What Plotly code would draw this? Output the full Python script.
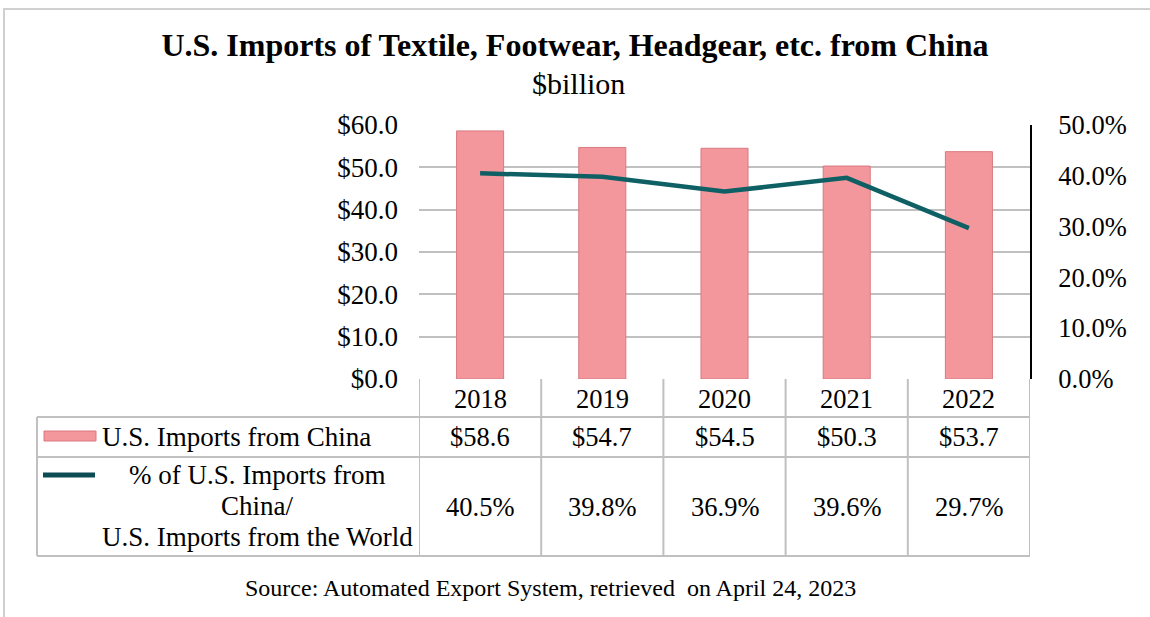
import plotly.graph_objects as go

# ---- data ----
years = ["2018", "2019", "2020", "2021", "2022"]
imports_bn = [58.6, 54.7, 54.5, 50.3, 53.7]
share_pct = [40.5, 39.8, 36.9, 39.6, 29.7]
bar_name = "U.S. Imports from China"
line_name_lines = ["% of U.S. Imports from", "China/", "U.S. Imports from the World"]
title_text = "U.S. Imports of Textile, Footwear, Headgear, etc. from China"
subtitle_text = "$billion"
source_text = "Source: Automated Export System, retrieved  on April 24, 2023"

# ---- layout geometry (pixels) ----
W, H = 1150, 617
PL, PR, PT, PB = 419, 1030, 125, 379
FONT = "Liberation Serif, Times New Roman, serif"
GRID = "#c0c0c0"
BAR_FILL = "#f4979c"
BAR_EDGE = "#d8797f"
LINE_COL = "#0f6065"
FS = 26.5


def px_x(px):
    return (px - PL) / (PR - PL)


def px_y(py):
    return (PB - py) / (PB - PT)


def note(x, y, text, size=FS, xref="paper", xanchor="center", **kw):
    return dict(x=x, y=y, xref=xref, yref="paper", text=text, showarrow=False,
                xanchor=xanchor, yanchor="middle",
                font=dict(family=FONT, size=size, color="#000"), **kw)


fig = go.Figure()

fig.add_trace(go.Bar(
    x=list(range(len(years))), y=imports_bn, name=bar_name,
    marker=dict(color=BAR_FILL, line=dict(color=BAR_EDGE, width=1)),
    hoverinfo="skip",
))
fig.add_trace(go.Scatter(
    x=list(range(len(years))), y=share_pct, yaxis="y2", mode="lines",
    line=dict(color=LINE_COL, width=4.5), hoverinfo="skip",
))

shapes = []
annotations = []

# outer frame
shapes.append(dict(type="rect", xref="paper", yref="paper",
                   x0=px_x(4), x1=px_x(1160), y0=px_y(630), y1=px_y(9),
                   line=dict(color="#d0d0d0", width=2), layer="below"))

# data table rows (y pixel boundaries)
row_hdr_bottom, row_bar_bottom, row_line_bottom = 417, 457, 556
table_left = 37
n = len(years)
for yb in (row_hdr_bottom, row_bar_bottom, row_line_bottom):
    shapes.append(dict(type="line", xref="paper", yref="paper",
                       x0=px_x(table_left), x1=1, y0=px_y(yb), y1=px_y(yb),
                       line=dict(color=GRID, width=2)))
shapes.append(dict(type="line", xref="paper", yref="paper",
                   x0=px_x(table_left), x1=px_x(table_left),
                   y0=px_y(row_hdr_bottom), y1=px_y(row_line_bottom),
                   line=dict(color=GRID, width=2)))
for i in range(n + 1):
    shapes.append(dict(type="line", xref="x", yref="paper",
                       x0=i - 0.5, x1=i - 0.5, y0=0, y1=px_y(row_line_bottom),
                       line=dict(color=GRID, width=2)))

# table cell texts
for i, yr in enumerate(years):
    annotations.append(note(i, px_y((PB + row_hdr_bottom) / 2 + 1), yr, xref="x"))
    annotations.append(note(i, px_y((row_hdr_bottom + row_bar_bottom) / 2), f"${imports_bn[i]:.1f}", xref="x"))
    annotations.append(note(i, px_y((row_bar_bottom + row_line_bottom) / 2), f"{share_pct[i]:.1f}%", xref="x"))

# legend keys inside the table
shapes.append(dict(type="rect", xref="paper", yref="paper",
                   x0=px_x(44), x1=px_x(96), y0=px_y(441), y1=px_y(431),
                   fillcolor=BAR_FILL, line=dict(color=BAR_EDGE, width=1)))
annotations.append(note(px_x(100), px_y(437), bar_name, size=27, xanchor="left"))
shapes.append(dict(type="line", xref="paper", yref="paper",
                   x0=px_x(43), x1=px_x(95), y0=px_y(475), y1=px_y(475),
                   line=dict(color="#0d4c54", width=5)))
for k, txt in enumerate(line_name_lines):
    annotations.append(note(px_x(257), px_y(475 + 31 * k), txt, size=27))

# subtitle and source
annotations.append(note(px_x(578), px_y(83), subtitle_text, size=30))
annotations.append(note(px_x(550), px_y(588), source_text, size=24))

fig.update_layout(
    width=W, height=H,
    margin=dict(l=PL, r=W - PR, t=PT, b=H - PB, pad=0),
    paper_bgcolor="white", plot_bgcolor="white",
    showlegend=False,
    bargap=0.615,
    title=dict(text=f"<b>{title_text}</b>", x=0.5, xref="container",
               y=1 - 45 / H, yref="container", yanchor="middle",
               font=dict(family=FONT, size=32, color="#000")),
    xaxis=dict(range=[-0.5, n - 0.5], showticklabels=False, showgrid=False,
               zeroline=False, showline=False, ticks=""),
    yaxis=dict(range=[0, 60], dtick=10, tickprefix="$", tickformat=".1f",
               showgrid=True, gridcolor=GRID, gridwidth=2, zeroline=False,
               showline=False, ticks="", ticklabelstandoff=20,
               tickfont=dict(family=FONT, size=27, color="#000")),
    yaxis2=dict(range=[0, 50], dtick=10, ticksuffix="%", tickformat=".1f",
                overlaying="y", side="right", showgrid=False, zeroline=False,
                showline=True, linecolor="#000", linewidth=2, ticks="",
                ticklabelstandoff=21,
                tickfont=dict(family=FONT, size=FS, color="#000")),
    shapes=shapes,
    annotations=annotations,
)

fig.write_html("out.html", config={"displayModeBar": False})
